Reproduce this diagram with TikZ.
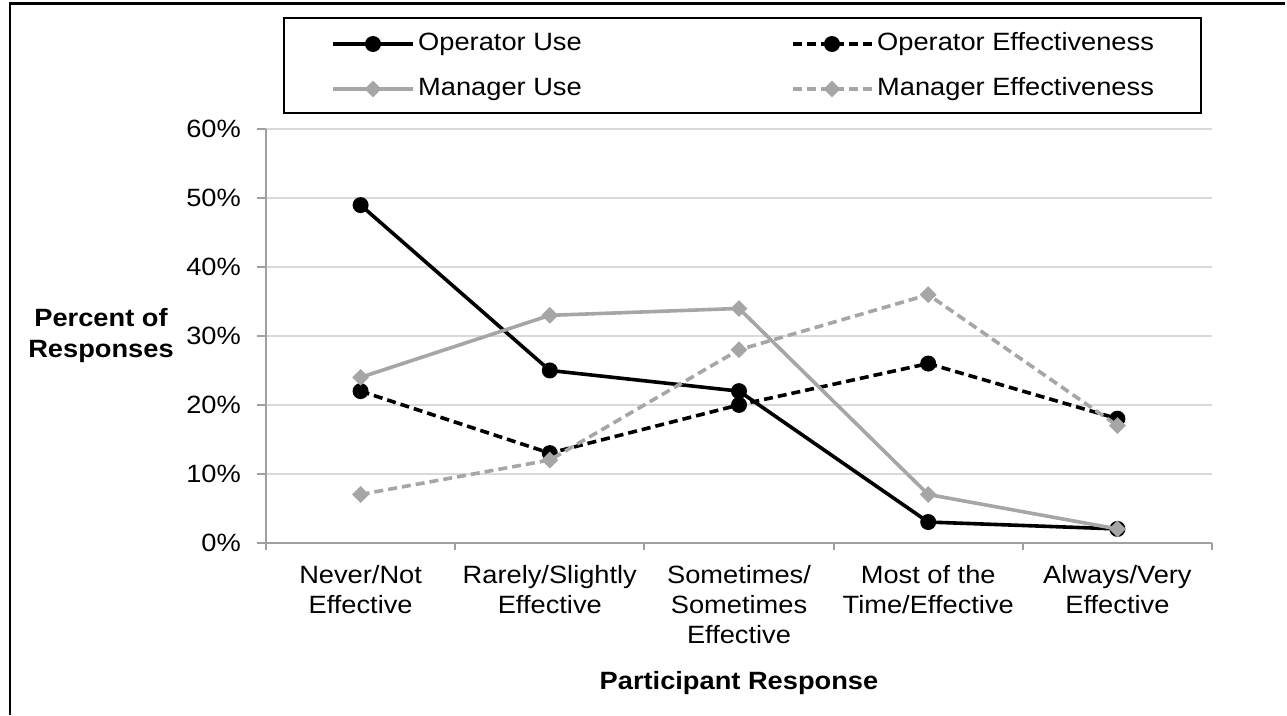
\documentclass[tikz,border=0pt]{standalone}
\usepackage{fontspec}
\setmainfont{Liberation Sans}[FakeStretch=1.09]
\usetikzlibrary{shapes.geometric}
\definecolor{serg}{HTML}{A6A6A6}
\definecolor{gridc}{HTML}{D9D9D9}
\definecolor{axisc}{HTML}{A0A0A0}
\begin{document}
\begin{tikzpicture}[x=1pt,y=-1pt,
  font=\fontsize{25}{30}\selectfont,
  opline/.style={line width=3.6pt, black, line join=round},
  opdash/.style={line width=3.6pt, black, dash pattern=on 9pt off 5pt},
  mgline/.style={line width=3.6pt, serg, line join=round},
  mgdash/.style={line width=3.6pt, serg, dash pattern=on 9pt off 5pt},
  dot/.style={circle, fill=black, inner sep=0pt, minimum size=16pt},
  dia/.style={diamond, fill=serg, inner sep=0pt, minimum size=17pt},
  gridline/.style={line width=2pt, gridc},
  axisline/.style={line width=2pt, axisc},
  ticklbl/.style={anchor=east, inner sep=0pt},
  catlbl/.style={anchor=north, inner sep=0pt, align=center},
  boldlbl/.style={font=\fontsize{25}{31}\selectfont\bfseries, align=center, inner sep=0pt},
  legtxt/.style={anchor=west, inner sep=0pt}]
\useasboundingbox (0,0) rectangle (1287,715);
% outer frame
\draw[line width=2.5pt] (10,715) -- (10,3.5) -- (1285,3.5);
% grid
\foreach \yy in {129.3,198.2,267.1,336.0,404.9,473.8}
  \draw[gridline] (266,\yy) -- (1212,\yy);
% axes
\draw[axisline] (266,129.3) -- (266,550);
\foreach \yy in {129.3,198.2,267.1,336.0,404.9,473.8,542.7}
  \draw[axisline] (257,\yy) -- (266,\yy);
\draw[axisline] (266,542.7) -- (1212,542.7);
\foreach \xx in {455.2,644.4,833.6,1022.8,1212}
  \draw[axisline] (\xx,542.7) -- (\xx,550);
% tick labels
\foreach \v/\yy in {0/542.7,10/473.8,20/404.9,30/336.0,40/267.1,50/198.2,60/129.3}
  \node[ticklbl] (yt\v) at (241,\yy) {\v\%};
\node[boldlbl] (ytitle) at (101,336) {Percent of\\Responses};
% category labels
\node[catlbl] (c0) at (360.6,565) {Never/Not\\Effective};
\node[catlbl] (c1) at (549.8,565) {Rarely/Slightly\\Effective};
\node[catlbl] (c2) at (739.0,565) {Sometimes/\\Sometimes\\Effective};
\node[catlbl] (c3) at (928.2,565) {Most of the\\Time/Effective};
\node[catlbl] (c4) at (1117.4,565) {Always/Very\\Effective};
\node[boldlbl] (xtitle) at (739,683) {Participant Response};
% data coordinates
\begin{scope}[shift={(360.6,542.7)}, x=189.2pt, y=6.89pt]
  \foreach \v [count=\i from 0] in {49,25,22,3,2} \coordinate (ou\i) at (\i,\v);
  \foreach \v [count=\i from 0] in {22,13,20,26,18} \coordinate (oe\i) at (\i,\v);
  \foreach \v [count=\i from 0] in {24,33,34,7,2} \coordinate (mu\i) at (\i,\v);
  \foreach \v [count=\i from 0] in {7,12,28,36,17} \coordinate (me\i) at (\i,\v);
\end{scope}
% series
\draw[opline] (ou0) -- (ou1) -- (ou2) -- (ou3) -- (ou4);
\foreach \i in {0,...,4} \node[dot] (oum\i) at (ou\i) {};
\draw[opdash] (oe0) -- (oe1) -- (oe2) -- (oe3) -- (oe4);
\foreach \i in {0,...,4} \node[dot] (oem\i) at (oe\i) {};
\draw[mgline] (mu0) -- (mu1) -- (mu2) -- (mu3) -- (mu4);
\foreach \i in {0,...,4} \node[dia] (mum\i) at (mu\i) {};
\draw[mgdash] (me0) -- (me1) -- (me2) -- (me3) -- (me4);
\foreach \i in {0,...,4} \node[dia] (mem\i) at (me\i) {};
% legend
\node[draw=black, line width=2pt, anchor=north west, minimum width=917pt, minimum height=95pt, inner sep=0pt] (legend) at (283,17) {};
\coordinate (la1) at (333,44); \coordinate (lb1) at (413,44);
\draw[opline] (la1) -- (lb1);
\node[dot] (lm1) at (373,44) {};
\node[legtxt] (lt1) at (418,44) {Operator Use};
\coordinate (la2) at (793,44); \coordinate (lb2) at (872,44);
\draw[opdash] (la2) -- (lb2);
\node[dot] (lm2) at (832,44) {};
\node[legtxt] (lt2) at (877,44) {Operator Effectiveness};
\coordinate (la3) at (333,89); \coordinate (lb3) at (413,89);
\draw[mgline] (la3) -- (lb3);
\node[dia] (lm3) at (373,89) {};
\node[legtxt] (lt3) at (418,89) {Manager Use};
\coordinate (la4) at (793,89); \coordinate (lb4) at (872,89);
\draw[mgdash] (la4) -- (lb4);
\node[dia] (lm4) at (832,89) {};
\node[legtxt] (lt4) at (877,89) {Manager Effectiveness};
\end{tikzpicture}
\end{document}
